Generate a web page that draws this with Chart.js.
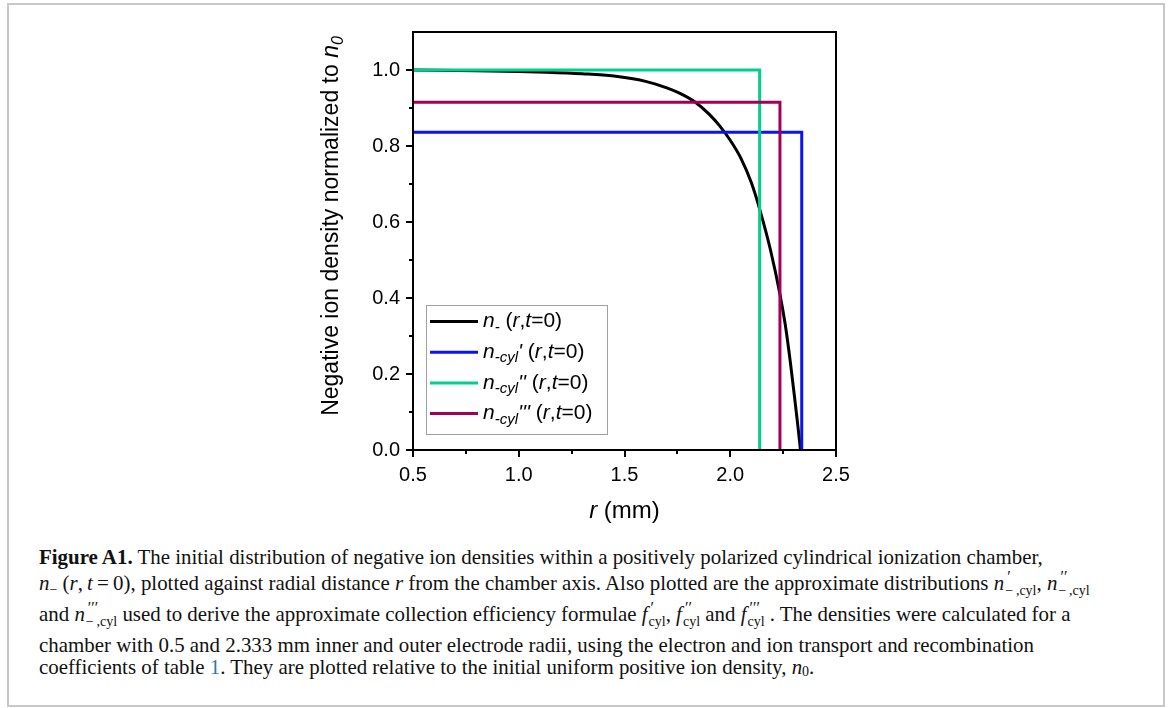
<!DOCTYPE html>
<html><head><meta charset="utf-8">
<script src="https://cdn.jsdelivr.net/npm/chart.js@4/dist/chart.umd.min.js"></script>
<style>
html,body{margin:0;padding:0;background:#fff;width:1170px;height:708px;overflow:hidden;}
#frame{position:absolute;left:7px;top:3px;width:1158px;height:704px;border:2px solid #c8c8c8;box-sizing:border-box;}
#wrap{position:absolute;left:0;top:0;width:1170px;height:540px;}
.cap{position:absolute;left:39px;font-family:"Liberation Serif","Times New Roman",serif;font-size:20.9px;line-height:22px;color:#111;white-space:nowrap;}
.cap i{font-style:italic;}
.sb{font-size:14px;vertical-align:-4px;}
.stk{position:relative;display:inline-block;font-size:14px;vertical-align:-5px;line-height:14px;margin-left:1px;}
.stk .u{position:absolute;left:1px;top:-14px;font-style:italic;font-size:16px;}
.blue{color:#2a7ab8;}
</style>
</head><body>
<div id="frame"></div>
<div id="wrap"><canvas id="c" width="1170" height="540"></canvas></div>
<div class="cap" style="top:546px"><b>Figure A1.</b> The initial distribution of negative ion densities within a positively polarized cylindrical ionization chamber,</div>
<div class="cap" style="top:572px"><i>n</i><span class="sb">−</span> (<i>r</i>,&#8201;<i>t</i>&#8201;=&#8201;0), plotted against radial distance <i>r</i> from the chamber axis. Also plotted are the approximate distributions <i>n</i><span class="stk"><span class="u">′</span>−&#8201;,cyl</span>, <i>n</i><span class="stk"><span class="u">′′</span>−&#8201;,cyl</span></div>
<div class="cap" style="top:603px">and <i>n</i><span class="stk"><span class="u">′′′</span>−&#8201;,cyl</span> used to derive the approximate collection efficiency formulae <i>f</i><span class="stk"><span class="u">′</span>cyl</span>, <i>f</i><span class="stk"><span class="u">′′</span>cyl</span> and <i>f</i><span class="stk"><span class="u">′′′</span>cyl</span> . The densities were calculated for a</div>
<div class="cap" style="top:634px">chamber with 0.5 and 2.333 mm inner and outer electrode radii, using the electron and ion transport and recombination</div>
<div class="cap" style="top:656px">coefficients of table <span class="blue">1</span>. They are plotted relative to the initial uniform positive ion density, <i>n</i><span class="sb" style="vertical-align:-2px">0</span>.</div>
<script>
// ---- data ----
const curveR = [0.5, 0.8, 1.0, 1.13, 1.3, 1.45, 1.6, 1.7, 1.76, 1.83, 1.9, 1.95, 2.0, 2.05, 2.1, 2.14, 2.19, 2.235, 2.26, 2.284, 2.308, 2.32, 2.332];
const curveN = [1.0, 0.998, 0.996, 0.994, 0.990, 0.984, 0.970, 0.953, 0.939, 0.917, 0.884, 0.853, 0.815, 0.768, 0.703, 0.632, 0.527, 0.41, 0.33, 0.232, 0.12, 0.062, 0.0];
const cyl1R = [0.5, 2.338, 2.338];
const cyl1N = [0.836, 0.836, 0.0];
const cyl2R = [0.5, 2.139, 2.139];
const cyl2N = [1.0, 1.0, 0.0];
const cyl3R = [0.5, 2.235, 2.235];
const cyl3N = [0.915, 0.915, 0.0];
const xTicks = [0.5, 1.0, 1.5, 2.0, 2.5];
const xMinor = [0.75, 1.25, 1.75, 2.25];
const yTicks = [0.0, 0.2, 0.4, 0.6, 0.8, 1.0];
const yMinor = [0.1, 0.3, 0.5, 0.7, 0.9];

const FONT = '"Liberation Sans", Arial, sans-serif';
const toXY = (xs, ys) => xs.map((x, i) => ({x: x, y: ys[i]}));

const LS = 21, LSUB = 15;
const legendRows = [
  [{t:'n',it:1,sz:LS},{t:'-',it:1,sz:LSUB,dy:6},{t:' (',sz:LS},{t:'r',it:1,sz:LS},{t:',',sz:LS},{t:'t',it:1,sz:LS},{t:'=0)',sz:LS}],
  [{t:'n',it:1,sz:LS},{t:'-cyl',it:1,sz:LSUB,dy:6},{t:"'",it:1,sz:LS},{t:' (',sz:LS},{t:'r',it:1,sz:LS},{t:',',sz:LS},{t:'t',it:1,sz:LS},{t:'=0)',sz:LS}],
  [{t:'n',it:1,sz:LS},{t:'-cyl',it:1,sz:LSUB,dy:6},{t:"''",it:1,sz:LS},{t:' (',sz:LS},{t:'r',it:1,sz:LS},{t:',',sz:LS},{t:'t',it:1,sz:LS},{t:'=0)',sz:LS}],
  [{t:'n',it:1,sz:LS},{t:'-cyl',it:1,sz:LSUB,dy:6},{t:"'''",it:1,sz:LS},{t:' (',sz:LS},{t:'r',it:1,sz:LS},{t:',',sz:LS},{t:'t',it:1,sz:LS},{t:'=0)',sz:LS}]
];
const yTitle = [{t:'Negative ion density normalized to ',sz:23},{t:'n',it:1,sz:23},{t:'0',it:1,sz:16,dy:7}];
const xTitle = [{t:'r',it:1,sz:24},{t:' (mm)',sz:24}];

function setF(ctx, s){ ctx.font = (s.it ? 'italic ' : '') + (s.sz || 20) + 'px ' + FONT; }
function richWidth(ctx, segs){ let w = 0; segs.forEach(s => { setF(ctx, s); w += ctx.measureText(s.t).width; }); return w; }
function drawRich(ctx, x, y, segs){
  ctx.textBaseline = 'middle'; ctx.textAlign = 'left'; ctx.fillStyle = '#000';
  segs.forEach(s => { setF(ctx, s); ctx.fillText(s.t, x, y + (s.dy || 0)); x += ctx.measureText(s.t).width; });
}

const decor = {
  id: 'decor',
  afterDraw(chart){
    const ctx = chart.ctx, a = chart.chartArea, xs = chart.scales.x, ys = chart.scales.y;
    ctx.save();
    ctx.strokeStyle = '#000'; ctx.lineWidth = 2;
    ctx.strokeRect(a.left, a.top, a.right - a.left, a.bottom - a.top);
    ctx.beginPath();
    xTicks.forEach(v => { const p = Math.round(xs.getPixelForValue(v)); ctx.moveTo(p, a.bottom); ctx.lineTo(p, a.bottom + 7); });
    xMinor.forEach(v => { const p = Math.round(xs.getPixelForValue(v)); ctx.moveTo(p, a.bottom); ctx.lineTo(p, a.bottom + 4); });
    yTicks.forEach(v => { const p = Math.round(ys.getPixelForValue(v)); ctx.moveTo(a.left, p); ctx.lineTo(a.left - 7, p); });
    yMinor.forEach(v => { const p = Math.round(ys.getPixelForValue(v)); ctx.moveTo(a.left, p); ctx.lineTo(a.left - 4, p); });
    ctx.stroke();
    // axis titles
    const xw = richWidth(ctx, xTitle);
    drawRich(ctx, (a.left + a.right) / 2 - xw / 2, 511, xTitle);
    const yw = richWidth(ctx, yTitle);
    ctx.save(); ctx.translate(332, 226); ctx.rotate(-Math.PI / 2);
    drawRich(ctx, -yw / 2, 0, yTitle); ctx.restore();
    // legend
    ctx.strokeStyle = '#a0a0a0'; ctx.lineWidth = 1;
    ctx.strokeRect(426.5, 305.5, 181, 129);
    chart.data.datasets.forEach((d, i) => {
      const y = 321.5 + i * 30.7;
      ctx.strokeStyle = d.borderColor; ctx.lineWidth = 3;
      ctx.beginPath(); ctx.moveTo(430, y); ctx.lineTo(478, y); ctx.stroke();
      drawRich(ctx, 483, y, legendRows[i]);
    });
    ctx.restore();
  }
};

new Chart(document.getElementById('c'), {
  type: 'line',
  data: {
    datasets: [
      {data: toXY(curveR, curveN), borderColor: '#000000', borderWidth: 3, pointRadius: 0, cubicInterpolationMode: 'monotone', order: 3},
      {data: toXY(cyl1R, cyl1N), borderColor: '#0a14f0', borderWidth: 3, pointRadius: 0, tension: 0, order: 2},
      {data: toXY(cyl2R, cyl2N), borderColor: '#00d08c', borderWidth: 3, pointRadius: 0, tension: 0, order: 1},
      {data: toXY(cyl3R, cyl3N), borderColor: '#a0005a', borderWidth: 3, pointRadius: 0, tension: 0, order: 0}
    ]
  },
  options: {
    responsive: false, animation: false, devicePixelRatio: 1,
    layout: {padding: {left: 333, right: 334, top: 32, bottom: 40}},
    plugins: {legend: {display: false}, tooltip: {enabled: false}, title: {display: false}},
    scales: {
      x: {type: 'linear', min: 0.5, max: 2.5,
        afterBuildTicks: s => { s.ticks = xTicks.map(v => ({value: v})); },
        afterFit: s => { s.height = 50; },
        grid: {display: false, drawTicks: false}, border: {display: false},
        ticks: {padding: 13, color: '#000', font: {size: 20, family: FONT}, maxRotation: 0, autoSkip: false, callback: v => Number(v).toFixed(1)}},
      y: {type: 'linear', min: 0, max: 1.1,
        afterBuildTicks: s => { s.ticks = yTicks.map(v => ({value: v})); },
        afterFit: s => { s.width = 80; },
        grid: {display: false, drawTicks: false}, border: {display: false},
        ticks: {padding: 13, color: '#000', font: {size: 20, family: FONT}, autoSkip: false, callback: v => Number(v).toFixed(1)}}
    }
  },
  plugins: [decor]
});
</script>
</body></html>
